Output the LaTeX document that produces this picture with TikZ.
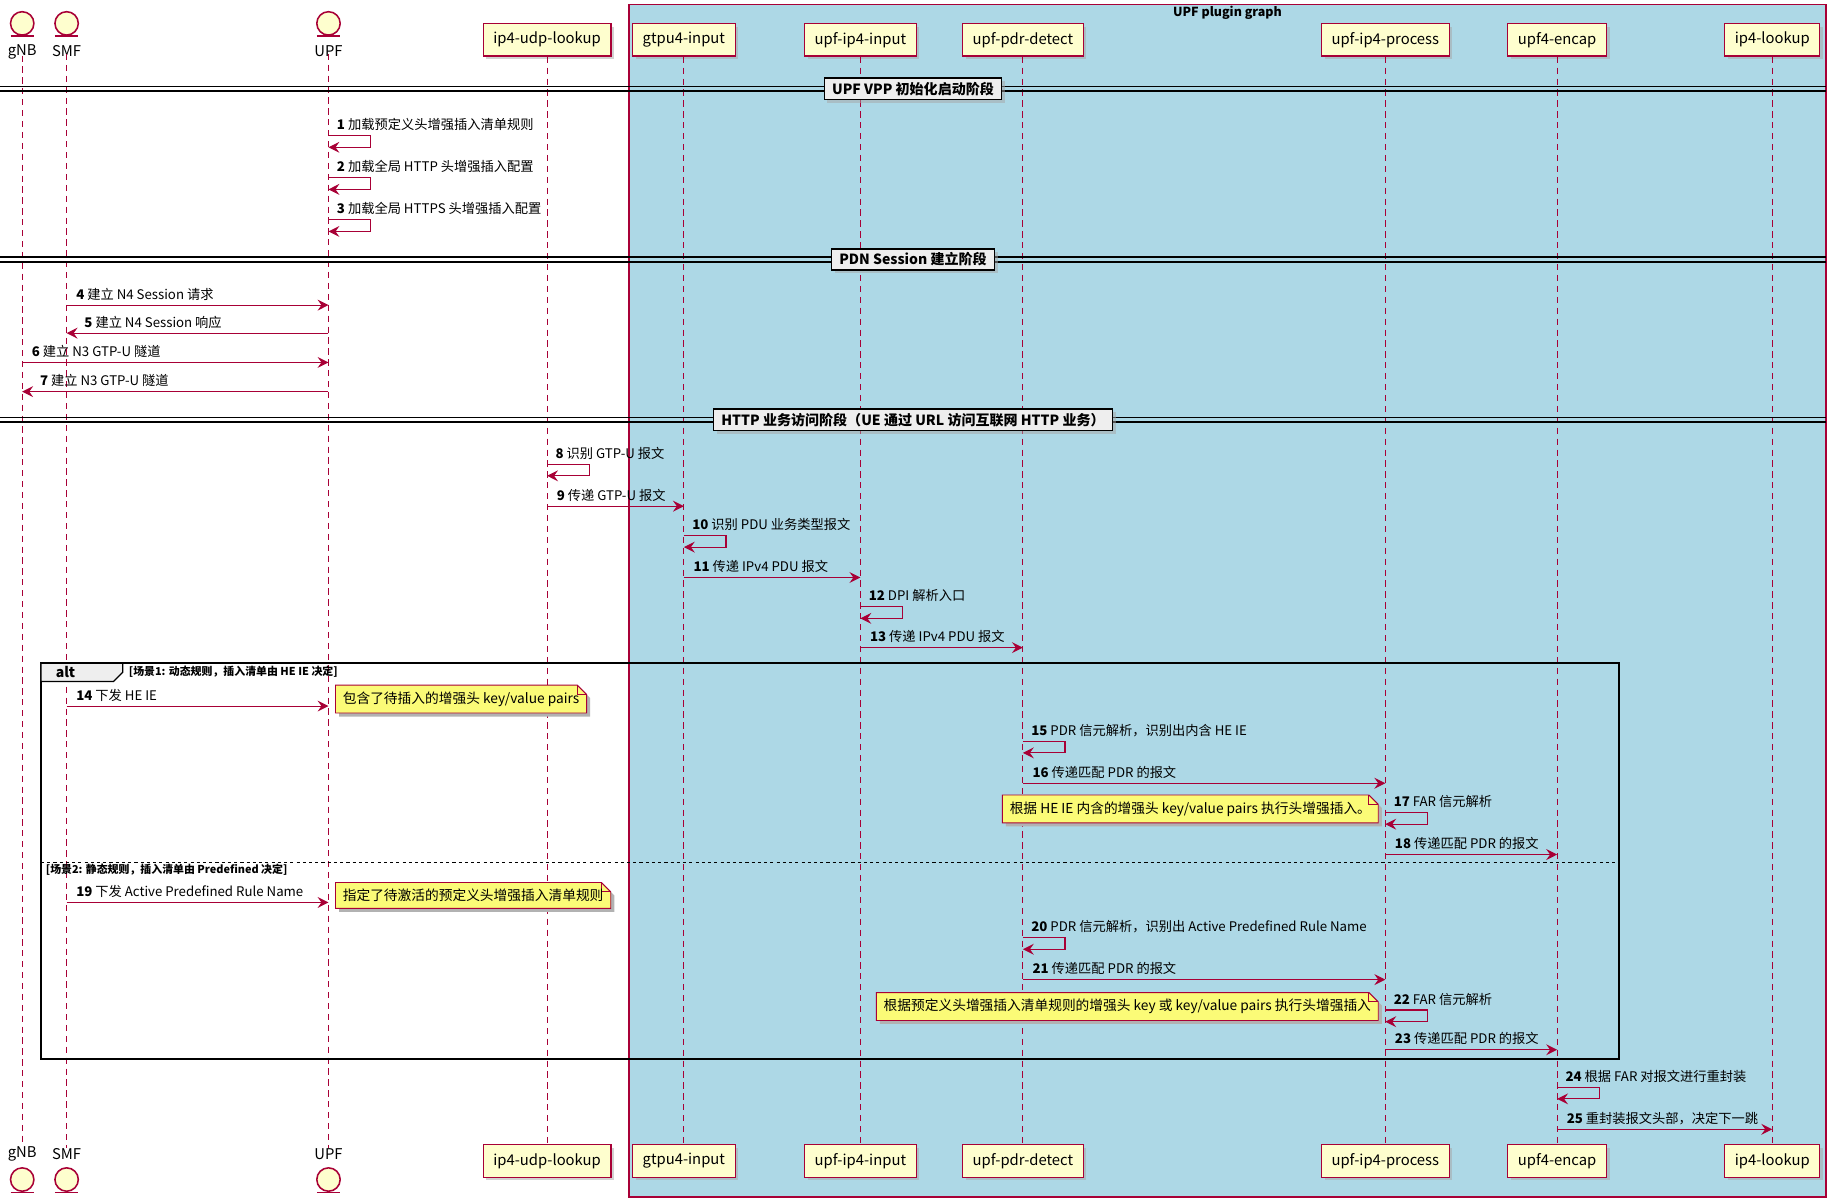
\documentclass[tikz,border=0pt]{standalone}
\usepackage{fontspec}
\setmainfont{Noto Sans CJK SC}
\usetikzlibrary{arrows.meta,shadows,calc}
\definecolor{pred}{HTML}{A80036}
\definecolor{pfill}{HTML}{FEFECE}
\definecolor{nfill}{HTML}{FBFB77}
\definecolor{gbox}{HTML}{ADD8E6}
\definecolor{dfill}{HTML}{EEEEEE}
\tikzset{
 part/.style={draw=pred,fill=pfill,line width=0.8pt,minimum height=21pt,inner xsep=6.5pt,font=\fontsize{9.5}{11}\selectfont,drop shadow={shadow xshift=2pt,shadow yshift=-2pt,fill=black!35}},
 actlbl/.style={inner sep=0pt,font=\fontsize{9.5}{11}\selectfont},
 life/.style={draw=pred,dashed,dash pattern=on 4pt off 3pt,line width=0.6pt},
 msg/.style={draw=pred,line width=0.7pt,-{Stealth[length=7pt,width=7pt,inset=2.5pt]}},
 lbl/.style={inner sep=0pt,font=\fontsize{8.5}{10}\selectfont},
 divlbl/.style={draw=black,fill=dfill,line width=1pt,font=\bfseries\fontsize{9}{10}\selectfont,inner xsep=5pt,inner ysep=2.5pt,drop shadow={shadow xshift=2pt,shadow yshift=-2pt,fill=black!35}},
 guard/.style={inner sep=0pt,font=\bfseries\fontsize{7}{8}\selectfont},
 notetxt/.style={inner xsep=4.5pt,inner ysep=4pt,font=\fontsize{8.8}{10}\selectfont}
}
\newcommand\msgR[5]{\draw[msg] (#1 |- 0,#3) -- (#2 |- 0,#3);
 \path (#1 |- 0,#3) ++(8,-5) node[lbl,anchor=base west]{\textbf{#4} #5};}
\newcommand\msgL[5]{\draw[msg] (#1 |- 0,#3) -- (#2 |- 0,#3);
 \path (#2 |- 0,#3) ++(15,-5) node[lbl,anchor=base west]{\textbf{#4} #5};}
\newcommand\selfm[4]{\draw[msg] (#1 |- 0,#2) -- ++(36,0) -- ++(0,10) -- ++(-36,0);
 \path (#1 |- 0,#2) ++(7,-5) node[lbl,anchor=base west]{\textbf{#3} #4};}
% name, anchor, x, y, text
\newcommand\notebox[5]{%
 \node[notetxt,anchor=#2,xshift=0pt] (#1) at (#3,#4) {\phantom{#5}};
 \fill[black!30] ($(#1.north west)+(3,3)$) -- ($(#1.north east)+(-5,3)$) -- ($(#1.north east)+(3,11)$) -- ($(#1.south east)+(3,3)$) -- ($(#1.south west)+(3,3)$) -- cycle;
 \filldraw[fill=nfill,draw=pred,line width=0.6pt] (#1.north west) -- ($(#1.north east)+(-8,0)$) -- ($(#1.north east)+(0,8)$) -- (#1.south east) -- (#1.south west) -- cycle;
 \draw[pred,line width=0.6pt] ($(#1.north east)+(-8,0)$) -- ($(#1.north east)+(-8,8)$) -- ($(#1.north east)+(0,8)$);
 \node[notetxt,anchor=#2] (#1) at (#3,#4) {#5};}
\newcommand\divider[3]{%
 \draw[line width=1pt] (0,{#2-2}) -- (1562,{#2-2});
 \draw[line width=1pt] (0,{#2+2}) -- (1562,{#2+2});
 \node[divlbl] (#1) at (781,#2) {#3};}
\begin{document}
\begin{tikzpicture}[x=0.75pt,y=-0.75pt]
\useasboundingbox (0,0) rectangle (1568,1029);
% plugin graph box
\filldraw[fill=gbox,draw=pred,line width=0.8pt] (538,4) rectangle (1562,1024);
\node[inner sep=0pt,font=\bfseries\fontsize{8}{9}\selectfont] (gtitle) at (1050,11) {UPF plugin graph};
% actors
\foreach \n/\x in {gNB/19,SMF/57,UPF/281}{
 \node[actlbl] (t\n) at (\x,44) {\n};
 \node[actlbl] (b\n) at (\x,987) {\n};
 \filldraw[fill=pfill,draw=pred,line width=1pt] (\x,20) circle (10);
 \draw[pred,line width=1pt] (\x-10,31) -- (\x+10,31);
 \filldraw[fill=pfill,draw=pred,line width=1pt] (\x,1009) circle (10);
 \draw[pred,line width=1pt] (\x-10,1020) -- (\x+10,1020);
 \draw[life] (t\n.south) ++(0,-3) -- (b\n.north);
}
% participants
\node[part] (tudp) at (468,34) {ip4-udp-lookup};
\node[part] (tgtpu) at (585,34) {gtpu4-input};
\node[part] (tipin) at (736,34) {upf-ip4-input};
\node[part] (tpdr) at (875,34) {upf-pdr-detect};
\node[part] (tproc) at (1185,34) {upf-ip4-process};
\node[part] (tencap) at (1332,34) {upf4-encap};
\node[part] (tlookup) at (1516,34) {ip4-lookup};
\node[part] (budp) at (468,993) {ip4-udp-lookup};
\node[part] (bgtpu) at (585,993) {gtpu4-input};
\node[part] (bipin) at (736,993) {upf-ip4-input};
\node[part] (bpdr) at (875,993) {upf-pdr-detect};
\node[part] (bproc) at (1185,993) {upf-ip4-process};
\node[part] (bencap) at (1332,993) {upf4-encap};
\node[part] (blookup) at (1516,993) {ip4-lookup};
\foreach \n in {udp,gtpu,ipin,pdr,proc,encap,lookup}{\draw[life] (t\n.south) -- (b\n.north);}
% dividers
\divider{d1}{76}{UPF VPP 初始化启动阶段}
\divider{d2}{222}{PDN Session 建立阶段}
\divider{d3}{359}{HTTP 业务访问阶段（UE 通过 URL 访问互联网 HTTP 业务）}
% messages
\selfm{tUPF}{116}{1}{加载预定义头增强插入清单规则}
\selfm{tUPF}{152}{2}{加载全局 HTTP 头增强插入配置}
\selfm{tUPF}{188}{3}{加载全局 HTTPS 头增强插入配置}
\msgR{tSMF}{tUPF}{261}{4}{建立 N4 Session 请求}
\msgL{tUPF}{tSMF}{285}{5}{建立 N4 Session 响应}
\msgR{tgNB}{tUPF}{310}{6}{建立 N3 GTP-U 隧道}
\msgL{tUPF}{tgNB}{335}{7}{建立 N3 GTP-U 隧道}
\selfm{tudp}{397}{8}{识别 GTP-U 报文}
\msgR{tudp}{tgtpu}{433}{9}{传递 GTP-U 报文}
\selfm{tgtpu}{458}{10}{识别 PDU 业务类型报文}
\msgR{tgtpu}{tipin}{494}{11}{传递 IPv4 PDU 报文}
\selfm{tipin}{519}{12}{DPI 解析入口}
\msgR{tipin}{tpdr}{554}{13}{传递 IPv4 PDU 报文}
% alt frame
\draw[line width=1.3pt] (35,567) rectangle (1385,906);
\filldraw[fill=dfill,draw=black,line width=0.8pt] (35,567) -- (105,567) -- (105,575) -- (97,583) -- (35,583) -- cycle;
\draw[line width=1.3pt] (35,567) -- (1385,567);
\node[inner sep=0pt,font=\bfseries\fontsize{9}{10}\selectfont] (altlbl) at (56,575) {alt};
\node[guard,anchor=west] (g1) at (110,575) {[场景1: 动态规则，插入清单由 HE IE 决定]};
\draw[dashed,dash pattern=on 2pt off 2pt,line width=0.6pt] (35,738) -- (1385,738);
\node[guard,anchor=west] (g2) at (39,744) {[场景2: 静态规则，插入清单由 Predefined 决定]};
\msgR{tSMF}{tUPF}{604}{14}{下发 HE IE}
\notebox{n1}{west}{287}{598}{包含了待插入的增强头 key/value pairs}
\selfm{tpdr}{634}{15}{PDR 信元解析，识别出内含 HE IE}
\msgR{tpdr}{tproc}{670}{16}{传递匹配 PDR 的报文}
\selfm{tproc}{695}{17}{FAR 信元解析}
\notebox{n2}{east}{1179}{692}{根据 HE IE 内含的增强头 key/value pairs 执行头增强插入。}
\msgR{tproc}{tencap}{731}{18}{传递匹配 PDR 的报文}
\msgR{tSMF}{tUPF}{772}{19}{下发 Active Predefined Rule Name}
\notebox{n3}{west}{287}{766}{指定了待激活的预定义头增强插入清单规则}
\selfm{tpdr}{802}{20}{PDR 信元解析，识别出 Active Predefined Rule Name}
\msgR{tpdr}{tproc}{838}{21}{传递匹配 PDR 的报文}
\selfm{tproc}{864}{22}{FAR 信元解析}
\notebox{n4}{east}{1179}{861}{根据预定义头增强插入清单规则的增强头 key 或 key/value pairs 执行头增强插入}
\msgR{tproc}{tencap}{898}{23}{传递匹配 PDR 的报文}
\selfm{tencap}{930}{24}{根据 FAR 对报文进行重封装}
\msgR{tencap}{tlookup}{966}{25}{重封装报文头部，决定下一跳}
\end{tikzpicture}
\end{document}
